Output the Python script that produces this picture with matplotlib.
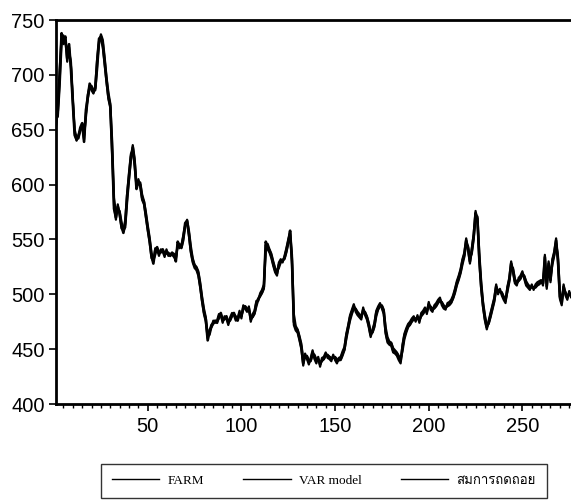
import matplotlib
matplotlib.use("Agg")
import matplotlib.pyplot as plt
from matplotlib import font_manager
from matplotlib.ft2font import FT2Font
from matplotlib.font_manager import FontProperties
from matplotlib.ticker import MultipleLocator

# ---------------- data ----------------
t = list(range(1, 279))

farm = [
    655, 668, 700, 738, 730, 735, 715, 728, 705, 674,
    645, 641, 644, 652, 656, 639, 668, 680, 692, 688,
    684, 688, 712, 733, 735, 728, 712, 695, 680, 672,
    630, 578, 570, 580, 574, 562, 556, 565, 590, 608,
    625, 634, 620, 596, 603, 600, 588, 584, 572, 560,
    549, 535, 528, 540, 543, 537, 539, 541, 536, 539,
    537, 535, 538, 536, 530, 548, 544, 543, 552, 565,
    567, 555, 540, 531, 526, 524, 519, 508, 495, 484,
    477, 458, 466, 472, 474, 476, 474, 480, 483, 476,
    478, 480, 474, 477, 481, 483, 478, 476, 483, 480,
    488, 489, 486, 487, 477, 480, 483, 492, 496, 499,
    502, 507, 548, 543, 540, 535, 528, 522, 519, 527,
    530, 531, 533, 540, 548, 558, 530, 475, 469, 467,
    460, 452, 437, 444, 443, 438, 440, 447, 443, 439,
    441, 436, 440, 441, 445, 444, 443, 441, 443, 442,
    439, 440, 441, 446, 450, 462, 470, 479, 484, 489,
    486, 483, 481, 479, 486, 483, 479, 472, 463, 466,
    472, 483, 487, 490, 489, 484, 466, 458, 456, 455,
    449, 448, 446, 442, 439, 452, 462, 467, 471, 473,
    476, 478, 477, 479, 476, 481, 483, 486, 484, 491,
    488, 486, 488, 490, 493, 495, 492, 489, 488, 490,
    491, 493, 497, 503, 510, 515, 521, 530, 536, 549,
    542, 530, 540, 553, 574, 569, 532, 507, 490, 478,
    470, 474, 481, 488, 495, 507, 502, 503, 501, 497,
    494, 505, 513, 528, 522, 512, 510, 513, 515, 519,
    516, 510, 508, 506, 507, 506, 507, 509, 510, 511,
    510, 534, 507, 528, 513, 530, 537, 549, 531, 498,
    492, 507, 501, 497, 501, 499, 503, 500,
]

var_model = [
    660, 662, 690, 728, 736, 730, 722, 720, 712, 680,
    650, 643, 642, 649, 655, 645, 662, 678, 688, 690,
    686, 686, 705, 728, 737, 732, 716, 698, 684, 674,
    640, 588, 574, 577, 576, 566, 558, 561, 584, 604,
    622, 636, 624, 600, 600, 602, 591, 585, 575, 563,
    552, 538, 531, 536, 542, 539, 538, 540, 538, 537,
    538, 536, 537, 537, 533, 544, 546, 542, 549, 562,
    568, 558, 544, 533, 527, 525, 521, 511, 498, 487,
    479, 463, 463, 470, 473, 475, 475, 478, 482, 478,
    477, 479, 476, 476, 480, 482, 480, 477, 481, 481,
    486, 489, 487, 486, 480, 479, 482, 489, 495, 498,
    501, 505, 540, 546, 541, 537, 530, 524, 521, 524,
    529, 531, 532, 538, 546, 556, 536, 482, 471, 468,
    462, 455, 441, 442, 444, 440, 439, 445, 445, 441,
    440, 438, 439, 441, 444, 445, 443, 442, 442, 443,
    441, 440, 440, 444, 449, 459, 468, 476, 482, 487,
    487, 484, 482, 480, 484, 484, 480, 474, 466, 465,
    470, 480, 486, 489, 490, 486, 470, 461, 457, 456,
    451, 449, 447, 444, 441, 448, 459, 465, 470, 472,
    475, 477, 478, 478, 477, 480, 482, 485, 485, 489,
    489, 487, 487, 489, 492, 494, 493, 490, 488, 489,
    490, 492, 496, 501, 508, 513, 519, 527, 534, 546,
    544, 533, 537, 550, 570, 571, 538, 512, 493, 481,
    472, 473, 479, 486, 493, 504, 504, 502, 502, 498,
    495, 502, 511, 524, 524, 514, 511, 512, 514, 518,
    517, 512, 509, 507, 506, 506, 506, 508, 509, 511,
    510, 528, 512, 524, 516, 527, 535, 546, 535, 503,
    494, 504, 502, 498, 500, 500, 502, 501,
]

regression = [
    652, 670, 705, 735, 728, 733, 712, 725, 708, 676,
    647, 640, 645, 650, 653, 641, 665, 682, 690, 686,
    683, 690, 715, 731, 733, 725, 709, 693, 678, 670,
    627, 581, 568, 582, 572, 560, 558, 568, 592, 611,
    628, 631, 617, 598, 605, 598, 586, 582, 570, 558,
    547, 533, 530, 542, 541, 535, 541, 539, 534, 541,
    535, 537, 536, 534, 532, 546, 542, 545, 554, 563,
    565, 553, 538, 529, 524, 522, 517, 506, 493, 482,
    475, 460, 468, 470, 476, 474, 476, 482, 481, 474,
    480, 478, 472, 479, 483, 481, 476, 478, 485, 478,
    490, 487, 484, 489, 475, 482, 485, 494, 494, 501,
    504, 509, 545, 541, 538, 533, 526, 520, 517, 529,
    532, 529, 535, 542, 550, 556, 527, 472, 467, 465,
    458, 450, 435, 446, 441, 436, 442, 449, 441, 437,
    443, 434, 442, 443, 447, 442, 441, 439, 445, 440,
    437, 442, 443, 448, 452, 464, 472, 481, 486, 491,
    484, 481, 479, 477, 488, 481, 477, 470, 461, 468,
    474, 485, 489, 492, 487, 482, 464, 456, 454, 453,
    447, 446, 444, 440, 437, 454, 464, 469, 473, 475,
    478, 480, 475, 481, 474, 483, 485, 488, 482, 493,
    486, 484, 490, 492, 495, 497, 490, 487, 486, 492,
    493, 495, 499, 505, 512, 517, 523, 532, 538, 551,
    540, 528, 542, 555, 576, 567, 530, 505, 488, 476,
    468, 476, 483, 490, 497, 509, 500, 505, 499, 495,
    492, 507, 515, 530, 520, 510, 508, 515, 517, 521,
    514, 508, 506, 504, 509, 504, 509, 511, 512, 513,
    508, 536, 505, 530, 511, 532, 539, 551, 529, 496,
    490, 509, 499, 495, 503, 497, 505, 498,
]

series_labels = ["FARM", "VAR model", "สมการถดถอย"]
x_ticks = [50, 100, 150, 200, 250]
y_ticks = [400, 450, 500, 550, 600, 650, 700, 750]

# ---------------- fonts ----------------
thai_font = None
for f in font_manager.fontManager.ttflist:
    try:
        ft = FT2Font(f.fname)
        if ft.get_char_index(ord("ส")) and ft.get_char_index(ord("A")):
            thai_font = f.name
            break
    except Exception:
        pass
legend_families = ["Liberation Serif"] + ([thai_font] if thai_font else []) + ["DejaVu Sans"]

# ---------------- figure ----------------
fig = plt.figure(figsize=(5.71, 5.01), dpi=100)
ax = fig.add_axes([0.098, 0.1936, 1.01 - 0.098, 0.960 - 0.1936])

ax.plot(t, farm, color="black", lw=1.9, label=series_labels[0])
ax.plot(t, var_model, color="black", lw=1.6, label=series_labels[1])
ax.plot(t, regression, color="black", lw=1.6, label=series_labels[2])

ax.set_xlim(1, 279)
ax.set_ylim(400, 750)
ax.set_xticks(x_ticks)
ax.xaxis.set_minor_locator(MultipleLocator(5))
ax.set_yticks(y_ticks)

for s in ax.spines.values():
    s.set_linewidth(2.0)
    s.set_color("black")

ax.tick_params(axis="both", which="major", direction="out", length=5, width=1.2,
               labelsize=14.5, colors="black")
ax.tick_params(axis="x", which="minor", direction="out", length=3, width=1.0)
ax.tick_params(axis="x", which="major", pad=4)
ax.tick_params(axis="y", which="major", pad=3)
for lab in ax.get_xticklabels() + ax.get_yticklabels():
    lab.set_fontfamily("Liberation Sans")

handles, labels = ax.get_legend_handles_labels()
leg = fig.legend(handles, labels, loc="center", bbox_to_anchor=(0.567, 0.04), ncol=3,
                 frameon=True, fancybox=False, edgecolor="black",
                 prop=FontProperties(family=legend_families, size=9.5),
                 handlelength=3.6, columnspacing=3.0, handletextpad=0.6,
                 borderpad=0.85, borderaxespad=0.0)
leg.get_frame().set_linewidth(1.0)
for line in leg.get_lines():
    line.set_linewidth(1.0)

fig.savefig("out.png", dpi=100)
